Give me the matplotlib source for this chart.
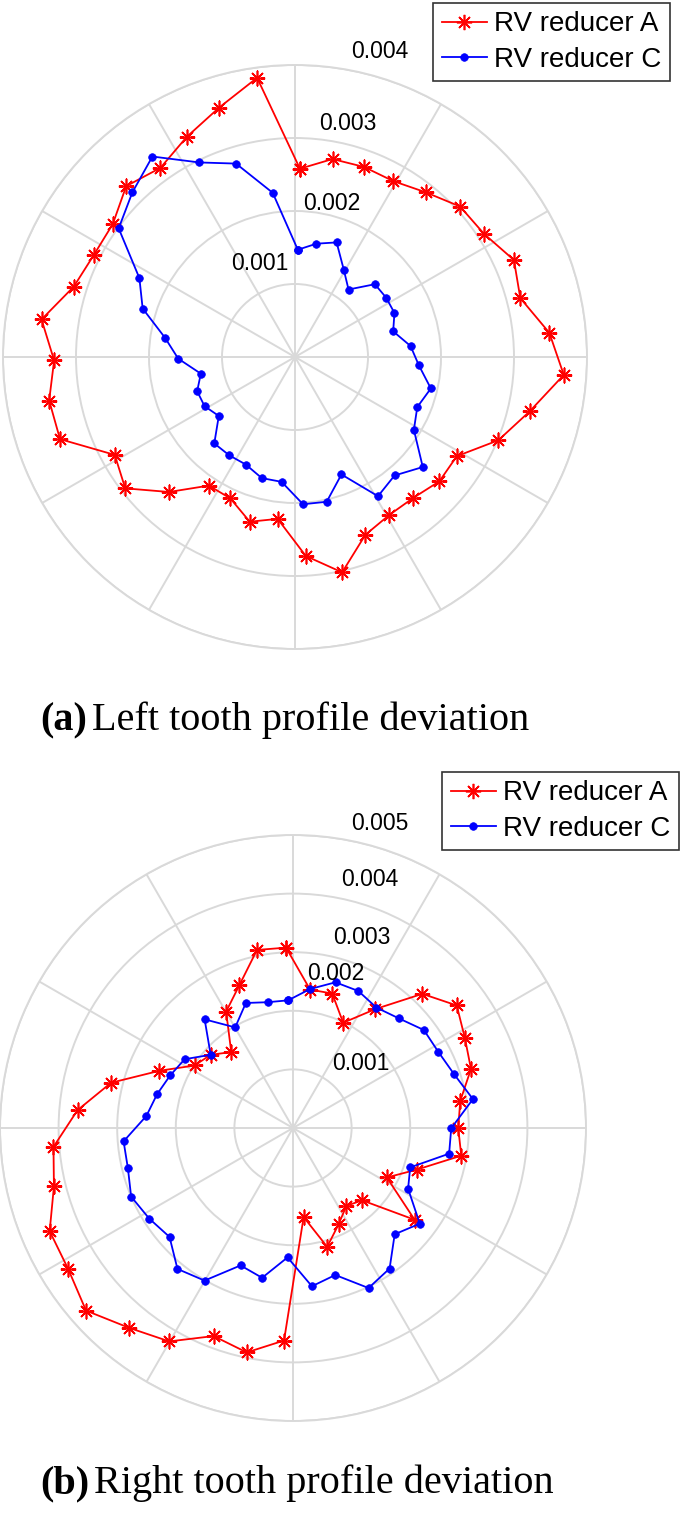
import numpy as np
import matplotlib.pyplot as plt

W, H = 685, 1516

# 39 teeth, deviation, clockwise from the top
teeth = np.arange(39)

left_A = [0.00258, 0.00276, 0.00277, 0.00276, 0.00288, 0.00306, 0.00309, 0.00328,
          0.00319, 0.00350, 0.00369, 0.00330, 0.00301, 0.00260, 0.00261, 0.00252,
          0.00252, 0.00262, 0.00302, 0.00273, 0.00223, 0.00234, 0.00213, 0.00212,
          0.00253, 0.00294, 0.00281, 0.00341, 0.00342, 0.00330, 0.00351, 0.00318,
          0.00309, 0.00309, 0.00329, 0.00318, 0.00336, 0.00357, 0.00386]
left_C = [0.00147, 0.00158, 0.00167, 0.00137, 0.00118, 0.00148, 0.00149, 0.00149,
          0.00139, 0.00159, 0.00170, 0.00191, 0.00181, 0.00191, 0.00231, 0.00212,
          0.00222, 0.00173, 0.00203, 0.00202, 0.00172, 0.00172, 0.00162, 0.00162,
          0.00162, 0.00132, 0.00141, 0.00142, 0.00131, 0.00160, 0.00180, 0.00219,
          0.00239, 0.00299, 0.00317, 0.00337, 0.00297, 0.00277, 0.00227]

right_A = [0.00308, 0.00238, 0.00239, 0.00199, 0.00247, 0.00318, 0.00349, 0.00331,
           0.00320, 0.00289, 0.00282, 0.00291, 0.00223, 0.00181, 0.00260, 0.00171,
           0.00161, 0.00182, 0.00211, 0.00153, 0.00363, 0.00391, 0.00380, 0.00421,
           0.00441, 0.00471, 0.00453, 0.00451, 0.00420, 0.00410, 0.00369, 0.00320,
           0.00248, 0.00199, 0.00188, 0.00167, 0.00229, 0.00260, 0.00310]
right_C = [0.00218, 0.00239, 0.00259, 0.00259, 0.00250, 0.00260, 0.00279, 0.00280,
           0.00290, 0.00311, 0.00270, 0.00270, 0.00211, 0.00222, 0.00271, 0.00251,
           0.00291, 0.00302, 0.00261, 0.00272, 0.00221, 0.00261, 0.00251, 0.00301,
           0.00311, 0.00281, 0.00290, 0.00300, 0.00290, 0.00290, 0.00251, 0.00239,
           0.00228, 0.00219, 0.00188, 0.00239, 0.00198, 0.00228, 0.00219]

left_ticks = ['0.001', '0.002', '0.003', '0.004']
right_ticks = ['0.001', '0.002', '0.003', '0.004', '0.005']

fig = plt.figure(figsize=(W / 100, H / 100), dpi=100)
grid_col = '#d9d9d9'


def px(x, y):
    return x / W, 1 - y / H


def panel(left, top, size, start, ra, rc, ticks, tick_pos, leg_corner):
    ax = fig.add_axes([left / W, 1 - (top + size) / H, size / W, size / H],
                      projection='polar')
    th = np.deg2rad(start - teeth * 360 / 39)
    th = np.append(th, th[0])
    ra = np.append(ra, ra[0])
    rc = np.append(rc, rc[0])
    ax.plot(th, ra, color='red', lw=1.3, marker=(8, 2, 0), ms=11, mew=1.2,
            label='RV reducer A')
    ax.plot(th, rc, color='blue', lw=1.3, marker='o', ms=5.5, mew=0.5,
            label='RV reducer C')
    rmax = 0.001 * len(ticks)
    ax.set_ylim(0, rmax)
    ax.set_rticks(np.arange(1, len(ticks) + 1) * 0.001)
    ax.set_yticklabels([])
    ax.set_thetagrids(np.arange(0, 360, 30), labels=[])
    ax.grid(color=grid_col, lw=1.4)
    ax.spines['polar'].set_color(grid_col)
    ax.spines['polar'].set_linewidth(1.4)
    for t, (x, y) in zip(ticks, tick_pos):
        fig.text(*px(x, y), t, ha='center', va='center', fontsize=16.5,
                 family='Liberation Sans')
    leg = ax.legend(loc='upper right', bbox_to_anchor=px(*leg_corner),
                    bbox_transform=fig.transFigure, borderaxespad=0,
                    fancybox=False, framealpha=1, edgecolor='#333333',
                    prop={'family': 'Liberation Sans', 'size': 20},
                    handlelength=1.65, handletextpad=0.25, borderpad=0.3,
                    labelspacing=0.35)
    leg.get_frame().set_linewidth(1.2)
    return ax


panel(3, 65, 584, 88.5, left_A, left_C, left_ticks,
      [(260, 263), (332, 204), (348, 124), (380, 52)], (670, 3))
panel(0, 835, 586, 92.2, right_A, right_C, right_ticks,
      [(361, 1064), (336, 974), (362, 937), (370, 880), (380, 823)], (679, 772))


def caption(y, tag, rest):
    t1 = fig.text(*px(40, y), tag, fontsize=29, family='Liberation Serif',
                  weight='bold', va='baseline')
    fig.canvas.draw()
    bb = t1.get_window_extent()
    fig.text(bb.x1 / W + 5 / W, 1 - y / H, rest, fontsize=29,
             family='Liberation Serif', va='baseline')


caption(730, '(a)', 'Left tooth profile deviation')
caption(1493, '(b)', 'Right tooth profile deviation')

fig.savefig('out.png', dpi=100)
